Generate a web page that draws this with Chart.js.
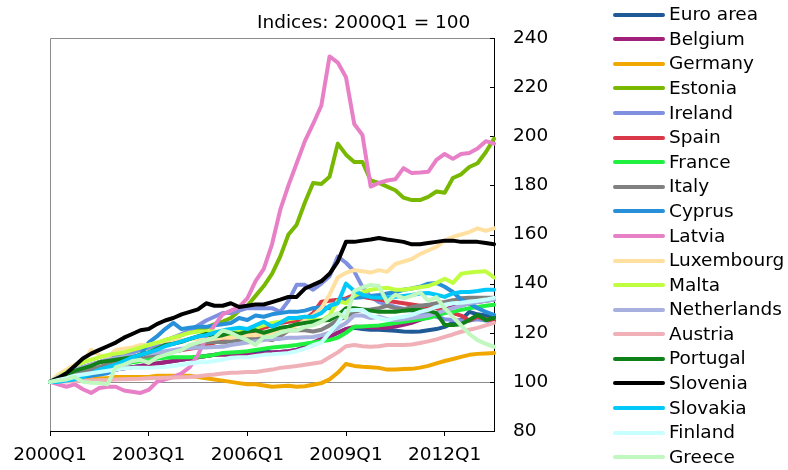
<!DOCTYPE html>
<html><head><meta charset="utf-8">
<script src="https://cdn.jsdelivr.net/npm/chart.js@4.4.1/dist/chart.umd.min.js"></script>
<style>
html,body{margin:0;padding:0;background:#fff;}
#wrap{position:relative;width:788px;height:470px;overflow:hidden;font-family:"DejaVu Sans",sans-serif;color:#000;}
#c{position:absolute;left:0;top:0;}
#title{position:absolute;left:257px;top:12px;font-size:18.5px;line-height:20px;white-space:nowrap;}
.sw{position:absolute;left:613px;width:52px;height:4px;border-radius:2px;}
.lt{position:absolute;left:669px;font-size:18.5px;line-height:20px;white-space:nowrap;}
</style></head><body>
<div id="wrap"><canvas id="c" width="788" height="470"></canvas><div id="title">Indices: 2000Q1 = 100</div><div id="legend"></div></div>
<script>
// ---- categories ----
const quarters = [];
for (let y = 2000; y <= 2013; y++) for (let q = 1; q <= 4; q++) if (!(y === 2013 && q > 3)) quarters.push(y + 'Q' + q);
const xTickLabels = ['2000Q1','2003Q1','2006Q1','2009Q1','2012Q1'];
const yTickValues = [80,100,120,140,160,180,200,220,240];
const countries = ['Euro area','Belgium','Germany','Estonia','Ireland','Spain','France','Italy','Cyprus','Latvia','Luxembourg','Malta','Netherlands','Austria','Portugal','Slovenia','Slovakia','Finland','Greece'];
const colors = ['#1f5a96','#a0207c','#f0a800','#78b800','#8090e0','#d83848','#20f040','#808080','#2890d8','#e880c8','#ffe0a0','#c0ff40','#a8b0e0','#f0b0b8','#108018','#000000','#00c8f8','#c8ffff','#c0f8c0'];

// ---- series values ----
const euroArea = [100,100.8,101.5,102.2,103,103.5,104,104.5,105,105.5,106,106.5,107,107.5,108,108.5,109,109.5,110,110.5,111,111.3,111.6,112,112.2,112.5,112.5,112,112.2,112.5,113,114.3,115,116.5,118.3,120,121.5,122,121.5,121.2,121.2,121,120.8,120.5,120.4,120.5,121,121.5,122.4,124,125.2,128.5,127.5,127,126.5];
const belgium = [100,101,102,102.5,103,103.5,104,104.5,105,105.5,106,106.5,107,107.5,108,108.5,109,109.5,110,110.5,111,111,111,111,111,111,111.5,112,112.2,112.5,113,114,116,117.5,118.5,120,121.5,122.4,122.4,122.2,122,122,122.5,123.2,124,125.2,126.5,128,129.3,130.5,131.2,132,132.5,133,133.5];
const germany = [100,100.5,100.5,101,101,101,101.5,101.5,102,102,102,102,102,102.5,102.5,102.5,102.5,102.5,102,101.5,101,100.5,100,99.5,99,99,98.5,98,98.2,98.4,98,98.2,98.8,99.5,101,103.7,107.3,106.5,106.2,106,105.7,105,105,105.2,105.3,105.8,106.5,107.5,108.5,109.3,110.2,111,111.4,111.6,111.8];
const estonia = [100,101.5,103,105,106,107,108,109,110,111,112,113,114,115.5,117,118,119,120.5,121.5,122,123.5,124.5,126,129,131,135,139,144,151,160,164,173,181,180.6,183.5,197,192.5,189.5,189.5,182,181,179.5,178,175,174,174,175.3,177.5,177,183,184.5,187.5,189,193.5,199];
const ireland = [100,101.5,103,104.5,106,107,108,109,110,111,112,113,114,115,116.5,118,119.5,121,123,125,126.5,128,128,129,130,130,130,130,128.5,133,139.5,139.5,137.5,140,143,151,148.5,145,138.7,134.6,132.5,131.5,130.5,129.8,129,128,127.3,126.5,125.5,125.2,125,125,125.5,125,124.5];
const spain = [100,101,102,103,104,105,106,107,108,109,110,110.5,111,111.5,112,112.5,113,113.5,114,115,116,117,118,119,120,121,122,123,124,124.5,125,125.5,128,132.6,133,133.4,134,135.4,134.6,134,133.5,133,132.5,132,131.5,131,130.5,130,129.3,128,127,125,126.5,125.5,125];
const france = [100,101,102,103,104,104.5,105,106,107,107.5,108,108.5,109,109.5,109.8,110,110,110,110.2,110.5,111,111.8,112,112.2,112.5,113,113.5,114,114.3,114.6,115,115.5,116,116.5,117,118,120,122.4,122.5,122.8,123,123.5,124,124.5,125,125.5,126,127,128,128.5,129.3,130,130.5,131,131.4];
const italy = [100,101,102,103,104,105,106,107,107.5,108,109,110,110.5,111,112,112.5,113,114,115,116,116.3,116,116.5,117,117.5,118,117.5,117,118.5,121,121,121,120.5,121.2,123,125.2,126.5,128.5,129.3,129.5,130,131,130,129.5,130.5,131,131.4,132,132.5,133.2,134,134.2,134.2,134.2,134.2];
const cyprus = [100,100.5,101,101.5,102,102.5,103,103.5,105,107,108.5,111,116,118.5,121.5,124,121.5,122,122.4,122.4,123,123.5,124,126,125.2,127,126.5,127.5,128,128.5,128.5,129,130,130.5,130,133,133.5,134.2,134.5,135,135.4,136,136.5,137.5,138,138.7,140,140.3,138.7,136.6,133.5,132,130,128.5,127.3];
const latvia = [100,99,98,99,97,95.5,97.5,98,98,96.5,96,95.5,96.7,100,101,102,103.5,106,111,118,123,127.5,129,130.5,134,141,146,156,170,180,189,198,205,212.5,232.5,230,224,205,200.5,179.5,181,182,182.5,187,185,185.2,185.5,190.4,192.8,190.8,192.8,193.2,195,198,197];
const luxembourg = [100,103,105,107,108,113,111,110,113,113.5,114,115,115,116,116.5,117,117,117.5,117.5,117,117.5,118,118,118.5,119,119,119.5,120,121,121.5,123,125,127,130,135.5,142.5,144.4,145.5,145,144.5,145.5,144.8,148,149,150,152,153.5,155,157.5,159,160,161,162.5,161.5,162.5];
const malta = [100,102,104,106,108,109,110,111,111.5,112,113,114,115,116,117,118,119,120,120.5,120.5,120.5,120,119.5,120.5,121.5,122,123,124,124.5,125.5,126,126.5,125.5,125,127,133,132,135,136.5,137.5,138,138.3,137.5,137.5,138,138.5,139,140.3,142,140.3,144,144.5,144.8,145,142.5];
const netherlands = [100,102,103.5,105,106,107,108,109,109.5,110,110.5,111,111.5,112,112.5,113,113.5,113.8,114,114,114.2,114.3,115,115.5,116,116.5,117,117.5,117.5,118,118,118.2,118.3,119,120,122,124,127,127,126,126.5,125.5,125.2,125.5,126,126.5,127,128,129,130,131,132,132.5,133,133.4];
const austria = [100,100.1,100.2,100.4,100.5,100.6,100.7,100.8,101,101.1,101.2,101.3,101.5,101.6,101.7,101.8,101.9,102,102.3,102.7,103,103.4,103.7,103.8,104,104,104.5,105,105.7,106.1,106.5,107,107.5,108,110,112,114.5,115,114.5,114.3,114.5,115,115,115,115.2,115.8,116.5,117.3,118.3,119.3,120.4,121.2,122,123,124];
const portugal = [100,101.5,103,104.5,105.5,106.5,108,108.5,109,109.5,110,111,112,113.5,115,115.5,116.3,117.5,118.5,119.5,118.5,119,120,119.5,120.5,121,120,121,122,122.5,123.5,124,124.5,125,125.2,127,130,130,129.5,129,128.5,128.5,128.5,129,129.3,129.3,129,128,123.2,123.2,123.5,125.2,127.3,125.2,126];
const slovenia = [100,101.5,103.5,106.5,109.5,111.5,113,114.5,116,118,119.5,121,121.5,123.5,125,126,127.5,128.5,129.5,132,131,131,132,130.5,131,131.5,131.5,132.5,133.5,134.6,134.6,138,139.5,141,144,149,157,157,157.5,158,158.6,158,157.5,157,156,156,156.5,157,157.5,157.5,157,157,157,156.5,156];
const slovakia = [100,100,100.5,101,102,103.5,105,106,107,108.5,110,111,112,113,114.5,115.5,116.5,117.5,118.5,119,120,121,121.5,122,121.5,123,124.5,122.5,124,126,126,126.5,126.5,128,131,132,140,137,135.5,134.5,134.2,134.5,134.6,135,135.4,136,136.2,135.5,134.6,136,136.6,136.6,137,137.5,137.5];
const finland = [100,100.8,101.5,102.5,103,103.5,104,104.5,105,105.5,105.7,105.7,105.7,106,106,106.5,107,107.5,108,108,108.5,109,109.8,110,110,110.5,111,111.2,111.5,111.8,112.5,113.5,115,116,120,124,129,129.3,129.3,127,126,125.2,126,126.5,127.3,128.5,129.3,130.5,131.4,132,132.2,132.6,133,133.5,134.2];
const greece = [100,100.5,101,102,100,99.6,99.5,99,106,107,108.5,109,107.7,110,111,112,113,115,116,117,118,121,120,118.3,117,115,118.3,118.3,120,121,121,122.4,123,124.5,126.5,128,126,137,138.5,139.5,139,132.5,135.5,134,135,136.5,133,134.5,130,126.5,123,119.5,117,115.5,114.3];

const seriesValues = [euroArea,belgium,germany,estonia,ireland,spain,france,italy,cyprus,latvia,luxembourg,malta,netherlands,austria,portugal,slovenia,slovakia,finland,greece];

const N = countries.length;
const datasets = countries.map((name, i) => ({
  label: name,
  data: seriesValues[i],
  borderColor: colors[i],
  backgroundColor: colors[i],
  borderWidth: 4,
  pointRadius: 0,
  tension: 0,
  fill: false,
  borderCapStyle: 'round',
  borderJoinStyle: 'round',
  order: N - 1 - i
}));

const FONT = {family: '"DejaVu Sans", sans-serif', size: 18.5};

const framePlugin = {
  id: 'frame',
  beforeDatasetsDraw(chart) {
    const {ctx, chartArea: a, scales: {y}} = chart;
    ctx.save();
    ctx.lineWidth = 1;
    ctx.strokeStyle = '#8c8c8c';
    ctx.beginPath();
    ctx.moveTo(a.left + 0.5, a.bottom);
    ctx.lineTo(a.left + 0.5, a.top + 0.5);
    ctx.lineTo(a.right, a.top + 0.5);
    const y100 = Math.round(y.getPixelForValue(100)) + 0.5;
    ctx.moveTo(a.left, y100);
    ctx.lineTo(a.right, y100);
    ctx.stroke();
    ctx.strokeStyle = '#000';
    ctx.beginPath();
    yTickValues.forEach(v => {
      const py = Math.round(y.getPixelForValue(v)) + 0.5;
      ctx.moveTo(a.right - 4, py);
      ctx.lineTo(a.right, py);
    });
    ctx.stroke();
    ctx.restore();
  }
};

const chart = new Chart(document.getElementById('c'), {
  type: 'line',
  data: {labels: quarters, datasets},
  options: {
    responsive: false,
    animation: false,
    layout: {padding: {left: 50, top: 38, right: 234, bottom: 0}},
    plugins: {legend: {display: false}, tooltip: {enabled: false}, title: {display: false}},
    scales: {
      x: {
        type: 'category',
        offset: false,
        grid: {
          display: true, drawOnChartArea: false, drawTicks: true, tickLength: 5, lineWidth: 1,
          color: (c) => (c.index % 12 === 0 ? '#000' : 'rgba(0,0,0,0)')
        },
        border: {display: true, color: '#000', width: 1},
        ticks: {
          autoSkip: false, maxRotation: 0, minRotation: 0, padding: 8, color: '#000', font: FONT,
          callback: (v, i) => (xTickLabels.includes(quarters[i]) ? quarters[i] : '')
        },
        afterFit: (s) => { s.height = 39; }
      },
      y: {
        position: 'right',
        min: 80, max: 240,
        ticks: {stepSize: 20, padding: 19, color: '#000', font: FONT},
        grid: {display: false, drawTicks: false},
        border: {display: true, color: '#000', width: 1},
        afterFit: (s) => { s.width = 60; }
      }
    }
  },
  plugins: [framePlugin]
});

// ---- legend (HTML, built from the chart's datasets) ----
const legend = document.getElementById('legend');
chart.data.datasets.forEach((ds, k) => {
  const cy = 14.7 + k * 24.58;
  const sw = document.createElement('div');
  sw.className = 'sw';
  sw.style.top = (cy - 2) + 'px';
  sw.style.background = ds.borderColor;
  legend.appendChild(sw);
  const t = document.createElement('div');
  t.className = 'lt';
  t.style.top = (cy - 10.4) + 'px';
  t.textContent = ds.label;
  legend.appendChild(t);
});
</script>
</body></html>
